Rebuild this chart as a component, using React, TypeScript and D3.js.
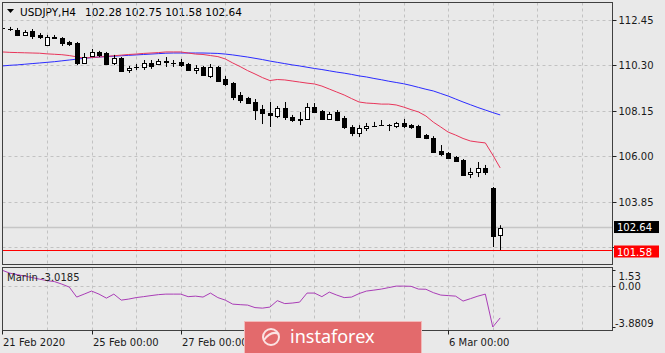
import React from 'react';
import * as d3 from 'd3';

const W = 665;
const H = 353;

// USDJPY H4, 21 Feb 2020 00:00 .. 9 Mar 2020 04:00 (one entry per bar)
const open = [
  112.06, 112.0, 111.95, 111.72, 111.91, 111.72, 111.25, 111.63, 111.58, 111.39,
  111.34, 110.4, 110.73, 110.92, 110.87, 110.4, 110.63, 110.07, 110.2, 110.21,
  110.4, 110.35, 110.45, 110.42, 110.45, 110.35, 110.07, 110.21, 109.79, 110.21,
  109.64, 109.45, 108.89, 108.75, 108.56, 108.23, 108.04, 107.9, 108.28, 107.85,
  107.76, 107.76, 108.32, 108.13, 107.76, 108.09, 107.8, 107.38, 107.1, 107.33,
  107.43, 107.47, 107.48, 107.43, 107.57, 107.47, 107.43, 107.0, 106.86, 106.25,
  106.15, 105.96, 105.82, 105.16, 105.26, 105.45, 104.5, 102.28,
];
const high = [
  112.14, 112.1, 112.05, 111.95, 112.0, 111.81, 111.72, 111.72, 111.62, 111.44,
  111.39, 110.87, 111.06, 110.97, 110.92, 110.78, 110.68, 110.26, 110.35, 110.54,
  110.54, 110.59, 110.68, 110.54, 110.59, 110.4, 110.3, 110.26, 110.35, 110.26,
  109.79, 109.5, 109.03, 108.8, 108.7, 108.42, 108.56, 108.37, 108.56, 107.95,
  108.09, 108.51, 108.51, 108.18, 108.09, 108.18, 107.9, 107.47, 107.47, 107.57,
  107.62, 107.71, 107.52, 107.62, 107.76, 107.52, 107.48, 107.05, 106.95, 106.53,
  106.2, 106.01, 105.87, 105.45, 105.73, 105.59, 104.55, 102.75,
];
const low = [
  111.95, 111.91, 111.67, 111.67, 111.53, 111.53, 111.2, 111.53, 111.2, 111.2,
  110.3, 110.35, 110.68, 110.68, 110.33, 110.3, 110.0, 109.93, 110.07, 110.07,
  110.12, 110.3, 110.21, 110.21, 110.21, 110.05, 109.88, 109.79, 109.69, 109.53,
  109.31, 108.65, 108.51, 108.47, 107.71, 107.52, 107.38, 107.8, 107.71, 107.62,
  107.47, 107.71, 108.04, 107.71, 107.71, 107.66, 107.29, 106.95, 106.91, 107.19,
  107.38, 107.43, 107.19, 107.33, 107.33, 107.29, 106.88, 106.81, 106.18, 106.01,
  105.87, 105.73, 105.12, 104.97, 105.02, 105.12, 101.72, 101.58,
];
const close = [
  112.03, 111.98, 111.72, 111.86, 111.67, 111.62, 111.62, 111.6, 111.34, 111.29,
  110.4, 110.68, 110.92, 110.78, 110.35, 110.63, 110.02, 110.16, 110.22, 110.4,
  110.26, 110.49, 110.47, 110.4, 110.3, 110.07, 110.16, 109.83, 110.21, 109.55,
  109.41, 108.79, 108.65, 108.51, 108.18, 108.04, 107.95, 108.28, 107.85, 107.71,
  107.71, 108.32, 108.09, 107.76, 107.99, 107.71, 107.38, 107.1, 107.33, 107.43,
  107.45, 107.48, 107.46, 107.57, 107.43, 107.38, 106.91, 106.86, 106.2, 106.11,
  105.92, 105.77, 105.12, 105.26, 105.45, 105.26, 102.24, 102.64,
];
const maRed = [
  110.92, 110.9, 110.89, 110.88, 110.87, 110.86, 110.83, 110.81, 110.79, 110.75,
  110.69, 110.63, 110.66, 110.68, 110.71, 110.74, 110.77, 110.8, 110.82, 110.85,
  110.87, 110.89, 110.92, 110.92, 110.92, 110.87, 110.82, 110.8, 110.75, 110.7,
  110.59, 110.4, 110.23, 110.04, 109.88, 109.71, 109.57, 109.62, 109.6, 109.55,
  109.5, 109.45, 109.41, 109.31, 109.17, 109.03, 108.89, 108.72, 108.56, 108.51,
  108.49, 108.46, 108.46, 108.42, 108.32, 108.2, 108.09, 107.9, 107.61, 107.38,
  107.14, 107.0, 106.84, 106.72, 106.67, 106.63, 106.06, 105.45,
];
const maBlue = [
  110.26, 110.29, 110.31, 110.34, 110.37, 110.4, 110.43, 110.46, 110.5, 110.54,
  110.58, 110.62, 110.65, 110.68, 110.7, 110.72, 110.74, 110.76, 110.78, 110.8,
  110.82, 110.84, 110.86, 110.87, 110.87, 110.87, 110.87, 110.87, 110.86, 110.85,
  110.82, 110.78, 110.73, 110.68, 110.62, 110.56, 110.49, 110.43, 110.37, 110.31,
  110.26, 110.2, 110.14, 110.09, 110.03, 109.97, 109.92, 109.86, 109.79, 109.74,
  109.67, 109.61, 109.54, 109.48, 109.42, 109.34, 109.25, 109.16, 109.08, 108.96,
  108.84, 108.7, 108.56, 108.43, 108.3, 108.18, 108.06, 107.95,
];
const marlin = [
  1.5, 1.23, 1.09, 0.95, 0.81, 0.66, 0.52, 0.43, 0.19, -0.09,
  -1.04, -0.76, -0.47, -0.76, -1.14, -0.76, -1.33, -1.23, -1.09, -1.0,
  -0.9, -0.81, -0.76, -0.76, -0.76, -1.0, -0.95, -1.04, -0.66, -1.09,
  -1.33, -1.71, -1.76, -1.8, -2.04, -2.09, -1.99, -1.38, -1.66, -1.61,
  -1.52, -0.66, -0.66, -1.0, -0.57, -0.85, -1.09, -1.04, -0.71, -0.47,
  -0.38, -0.28, -0.14, 0.0, 0.0, -0.02, -0.28, -0.3, -0.62, -0.85,
  -0.9, -0.95, -1.42, -1.19, -0.95, -0.76, -3.8809, -3.0185,
];

const priceTicks = [112.45, 110.3, 108.15, 106.0, 103.85, 101.7];
const marlinTicks = [1.53, 0.0, -3.8809];
// labels under the watermark (2 Mar, 4 Mar) only keep their tick
const timeLabels = [
  { bar: 0, text: '21 Feb 2020' },
  { bar: 12, text: '25 Feb 00:00' },
  { bar: 24, text: '27 Feb 00:00' },
  { bar: 36, text: '' },
  { bar: 48, text: '' },
  { bar: 60, text: '6 Mar 00:00' },
];
const gridBars = [6, 12, 18, 24, 30, 36, 42, 48, 54, 60, 66, 72, 78];
const symbol = 'USDJPY,H4';
const lastQuote = '102.28 102.75 101.58 102.64';
const bidPrice = 102.64;
const lowPrice = 101.58;
const marlinName = 'Marlin -3.0185';

const FONT = 'DejaVu Sans, Verdana, sans-serif';
const BG = '#e9e9e9';
const GRID = '#c2c2c2';

export default function App() {
  // panels
  const left = 2.5, right = 612.5;
  const mainTop = 2.5, mainBottom = 264.5;
  const indTop = 267.5, indBottom = 330.5;

  const x = d3.scaleLinear().domain([0, 67]).range([2.4, 500.2]);
  const y = d3.scaleLinear().domain([lowPrice, 112.45]).range([250, 19.5]);
  const ym = d3.scaleLinear().domain([-3.8809, 1.53]).range([327, 270]);

  const px = (i: number) => Math.round(x(i)) + 0.5;

  const maLine = d3.line<number>().x((d, i) => x(i)).y(d => y(d));
  const marlinLine = d3.line<number>().x((d, i) => x(i)).y(d => ym(d));

  return (
    <svg width={W} height={H} style={{ position: 'absolute', left: 0, top: 0 }}
      fontFamily={FONT}>
      <defs>
        <clipPath id="mainClip">
          <rect x={left} y={mainTop} width={right - left} height={mainBottom - mainTop} />
        </clipPath>
        <clipPath id="indClip">
          <rect x={left} y={indTop} width={right - left} height={indBottom - indTop} />
        </clipPath>
      </defs>
      <rect width={W} height={H} fill={BG} />

      {/* header */}
      <path d="M7,9 L14,9 L10.5,13 Z" fill="#000" />
      <text x={20} y={16} fontSize={10.5} fill="#000">{symbol}</text>
      <text x={85} y={16} fontSize={10.5} fill="#000">{lastQuote}</text>

      {/* main panel grid */}
      <g clipPath="url(#mainClip)">
        {gridBars.map(b => (
          <line key={'gv' + b} x1={px(b)} x2={px(b)} y1={mainTop} y2={mainBottom}
            stroke={GRID} strokeDasharray="3,3" />
        ))}
        {priceTicks.map(p => (
          <line key={'gh' + p} x1={left} x2={right} y1={Math.round(y(p)) + 0.5}
            y2={Math.round(y(p)) + 0.5} stroke={GRID} strokeDasharray="3,3" />
        ))}
        <line x1={left} x2={right} y1={y(bidPrice)} y2={y(bidPrice)} stroke="#c6c6c6" strokeWidth={1.5} />
        <line x1={left} x2={right} y1={Math.round(y(lowPrice)) + 0.5} y2={Math.round(y(lowPrice)) + 0.5}
          stroke="#ff0000" />

        <path d={maLine(maBlue) || ''} fill="none" stroke="#2b2bff" strokeWidth={1} />
        <path d={maLine(maRed) || ''} fill="none" stroke="#e8355a" strokeWidth={1} />

        {open.map((o, i) => {
          const c = close[i];
          const cx = px(i);
          const top = Math.round(y(Math.max(o, c)));
          const bot = Math.round(y(Math.min(o, c)));
          const up = c > o;
          return (
            <g key={'c' + i}>
              <line x1={cx} x2={cx} y1={y(high[i])} y2={y(low[i])} stroke="#000" />
              {bot - top < 1 ? (
                <line x1={cx - 2.5} x2={cx + 2.5} y1={top + 0.5} y2={top + 0.5} stroke="#000" />
              ) : (
                <rect x={cx - 2} y={top + 0.5} width={4} height={bot - top}
                  fill={up ? '#fff' : '#000'} stroke="#000" />
              )}
            </g>
          );
        })}
      </g>

      {/* indicator panel */}
      <g clipPath="url(#indClip)">
        {gridBars.map(b => (
          <line key={'iv' + b} x1={px(b)} x2={px(b)} y1={indTop} y2={indBottom}
            stroke={GRID} strokeDasharray="3,3" />
        ))}
        <line x1={left} x2={right} y1={Math.round(ym(0)) + 0.5} y2={Math.round(ym(0)) + 0.5}
          stroke={GRID} strokeDasharray="3,3" />
        <path d={marlinLine(marlin) || ''} fill="none" stroke="#a93db6" strokeWidth={1} />
        <text x={7} y={281} fontSize={10} fill="#222">{marlinName}</text>
      </g>

      {/* frames */}
      <rect x={left} y={mainTop} width={right - left} height={mainBottom - mainTop}
        fill="none" stroke="#404040" />
      <rect x={left} y={indTop} width={right - left} height={indBottom - indTop}
        fill="none" stroke="#404040" />

      {/* price axis (101.70 sits under the red low-price box) */}
      {priceTicks.map(p => (
        <g key={'pt' + p}>
          <line x1={right} x2={right + 4} y1={Math.round(y(p)) + 0.5} y2={Math.round(y(p)) + 0.5} stroke="#222" />
          {p > 102 && <text x={618.5} y={y(p) + 4} fontSize={10} fill="#1a1a1a">{p.toFixed(2)}</text>}
        </g>
      ))}
      <rect x={614} y={y(bidPrice) - 6.5} width={45} height={12} fill="#000" />
      <text x={617} y={y(bidPrice) + 3.5} fontSize={10} fill="#fff">{bidPrice.toFixed(2)}</text>
      <rect x={614} y={y(lowPrice) - 4.5} width={45} height={12} fill="#ff0000" />
      <text x={617} y={y(lowPrice) + 5.5} fontSize={10} fill="#fff">{lowPrice.toFixed(2)}</text>

      {/* indicator axis */}
      {marlinTicks.map((v, k) => {
        const ty = k === 0 ? 276 : k === 1 ? ym(v) : 323;
        const label = k === 2 ? v.toFixed(4) : v.toFixed(2);
        return (
          <g key={'mt' + k}>
            <line x1={right} x2={right + 3} y1={Math.round(ym(v)) + 0.5} y2={Math.round(ym(v)) + 0.5} stroke="#222" />
            <text x={k === 2 ? 615 : 618.5} y={ty + 4} fontSize={10} fill="#1a1a1a">{label}</text>
          </g>
        );
      })}

      {/* time axis */}
      {timeLabels.map(t => (
        <g key={'tl' + t.bar}>
          <line x1={px(t.bar)} x2={px(t.bar)} y1={indBottom} y2={indBottom + 4} stroke="#222" />
          {t.text && <text x={px(t.bar) + 0.5} y={346} fontSize={10} fill="#1a1a1a">{t.text}</text>}
        </g>
      ))}

      {/* watermark */}
      <g>
        <rect x={244.5} y={321.5} width={177} height={40} fill="#e36a6c" stroke="#f3b9b9" />
        <circle cx={271} cy={337} r={8} fill="none" stroke="#fbe3e3" strokeWidth={2} />
        <path d="M264,340 Q271,330 279,334" fill="none" stroke="#fbe3e3" strokeWidth={2} />
        <text x={290} y={343} fontSize={18} fill="#fff" fontFamily="Noto Sans, sans-serif">instaforex</text>
      </g>
    </svg>
  );
}
